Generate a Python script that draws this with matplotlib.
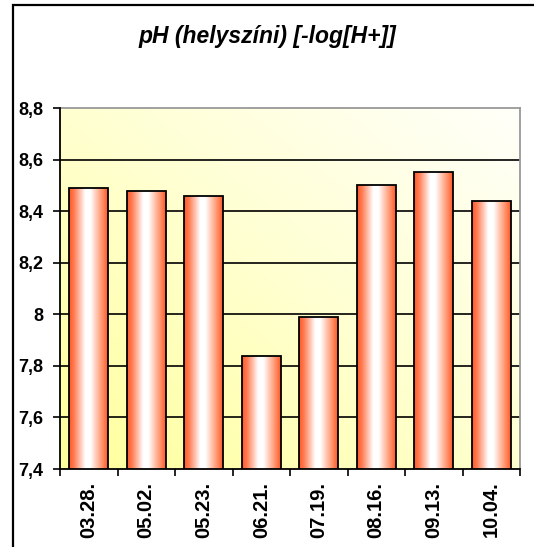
import numpy as np
import matplotlib
matplotlib.use("Agg")
import matplotlib.pyplot as plt
from matplotlib.colors import LinearSegmentedColormap
from matplotlib.patches import Rectangle

plt.rcParams["font.family"] = ["Liberation Sans", "DejaVu Sans"]

dates = ["03.28.", "05.02.", "05.23.", "06.21.", "07.19.", "08.16.", "09.13.", "10.04."]
ph = [8.49, 8.48, 8.46, 7.84, 7.99, 8.50, 8.55, 8.44]
yticks = [7.4, 7.6, 7.8, 8.0, 8.2, 8.4, 8.6, 8.8]
ytick_labels = ["7,4", "7,6", "7,8", "8", "8,2", "8,4", "8,6", "8,8"]

W, H = 534, 547
fig = plt.figure(figsize=(W / 100, H / 100), dpi=100)
ax = fig.add_axes([60 / W, 1 - 469 / H, 460 / W, 361 / H])

# outer chart frame (runs off the right and bottom edges)
fig.patches.append(Rectangle((13 / W, -0.05), 1.2, 1 - 5 / H + 0.05, transform=fig.transFigure,
                             fill=False, ec="black", lw=1.6, zorder=10))

x = np.arange(len(dates))
ax.set_xlim(-0.5, len(dates) - 0.5)
ax.set_ylim(7.4, 8.8)

# plot-area background: yellow in the lower left fading to near white in the upper right
gx, gy = np.meshgrid(np.linspace(0, 1, 200), np.linspace(0, 1, 200))
t = np.clip(((1 - gx) + gy) / 2, 0, 1)  # 0 = top right, 1 = bottom left
bg_cmap = LinearSegmentedColormap.from_list("bg", ["#fffffa", "#ffffd0", "#ffff9c"])
ax.imshow(t, cmap=bg_cmap, extent=[-0.5, len(dates) - 0.5, 7.4, 8.8], origin="upper",
          aspect="auto", zorder=0, vmin=0, vmax=1)

for v in yticks[1:-1]:
    ax.axhline(v, color="black", lw=1.2, zorder=1)

# bars with a horizontal orange-white-orange shading
bar_cmap = LinearSegmentedColormap.from_list(
    "bar", [(0, "#ff5a28"), (0.12, "#ff7a50"), (0.42, "#ffffff"), (0.55, "#ffffff"),
            (0.88, "#ff8a60"), (1, "#ff5a28")])
shade = np.linspace(0, 1, 100)[None, :]
bw = 0.67
bars = ax.bar(x, ph, width=bw, facecolor="none", edgecolor="black", lw=1.3, zorder=3)
for xi, v, b in zip(x, ph, bars):
    im = ax.imshow(shade, cmap=bar_cmap, extent=[xi - bw / 2, xi + bw / 2, 7.4, v],
                   aspect="auto", zorder=2)
    im.set_clip_path(b)

for s in ["top", "right"]:
    ax.spines[s].set_color("#999999")
    ax.spines[s].set_linewidth(1.3)
for s in ["left", "bottom"]:
    ax.spines[s].set_color("black")
    ax.spines[s].set_linewidth(1.3)
    ax.spines[s].set_zorder(4)

ax.set_yticks(yticks)
ax.set_yticklabels(ytick_labels, fontsize=13, fontweight="bold")
ax.tick_params(axis="y", length=5, width=1.2, pad=7)

ax.set_xticks(x)
ax.set_xticklabels(dates, rotation=90, fontsize=14.5, fontweight="bold")
ax.tick_params(axis="x", which="major", length=0, pad=9)
ax.set_xticks(np.arange(-0.5, len(dates)), minor=True)
ax.tick_params(axis="x", which="minor", length=5, width=1.2)

fig.text(0.5, 1 - 37 / H, "pH (helyszíni) [-log[H+]]", ha="center", va="center",
         fontsize=16.5, fontweight="bold", fontstyle="italic")

fig.savefig("out.png", dpi=100)
